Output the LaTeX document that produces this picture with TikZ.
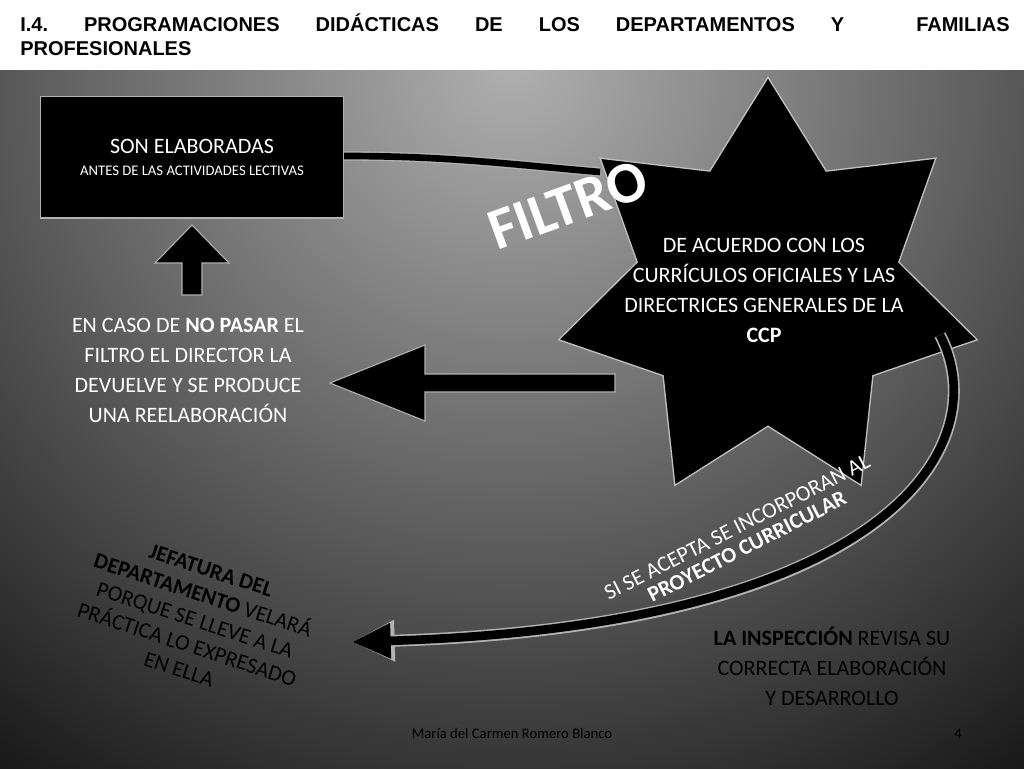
\documentclass[tikz,border=0pt]{standalone}
\usepackage{fontspec}
\setmainfont{Carlito}
\newfontfamily\titlefont{Liberation Sans}
\usetikzlibrary{shapes.geometric,arrows.meta,positioning}
\tikzset{
  whitetxt/.style={text=white,align=center,font=\fontsize{16.5}{22.5}\selectfont},
  blacktxt/.style={text=black,align=center,font=\fontsize{16.5}{22.5}\selectfont},
  blockarrow/.style={fill=black,draw=gray!60,line width=0.8pt},
}
\begin{document}
\begin{tikzpicture}[x=0.75pt,y=-0.75pt]
\useasboundingbox (0,0) rectangle (1024,768);
\fill[black!92] (0,70) rectangle (1024,768);
\begin{scope}
  \clip (0,70) rectangle (1024,768);
  \shade[inner color=gray!62,outer color=black!92] (512,60) circle (900);
\end{scope}
\fill[white] (0,0) rectangle (1024,70);
% title
\node[anchor=north west,text width=742pt,align=left,inner sep=0pt,
  font=\titlefont\bfseries\fontsize{15}{18}\selectfont] (title) at (20,14)
  {I.4.\hfill PROGRAMACIONES\hfill DIDÁCTICAS\hfill DE\hfill LOS\hfill DEPARTAMENTOS\hfill Y\hfill\hfill FAMILIAS\\PROFESIONALES};
% box
\node[draw=gray!60,fill=black,line width=1pt,minimum width=227pt,minimum height=91pt,
  whitetxt,anchor=north west] (box) at (40,96)
  {SON ELABORADAS\\[-6pt]{\fontsize{11}{13}\selectfont ANTES DE LAS ACTIVIDADES LECTIVAS}};
% star
\node[star,star points=7,star point ratio=1.6,minimum size=322pt,fill=black,
  draw=gray!50,line width=1pt] (filtro) at (768,292) {};
\node[whitetxt] (crit) at (764,290)
  {DE ACUERDO CON LOS\\CURRÍCULOS OFICIALES Y LAS\\DIRECTRICES GENERALES DE LA\\\textbf{CCP}};
% top connector
\draw[gray!60,line width=7pt] (box.east |- 0,156) to[out=0,in=175] (600,172);
\draw[black,line width=5pt] (box.east |- 0,156) to[out=0,in=175] (600,172);
\node[rotate=20,text=white,font=\bfseries\fontsize{44}{44}\selectfont] (lbl) at (568,205) {FILTRO};
% up arrow
\draw[blockarrow] (182,295) -- (182,263) -- (155,263) -- (192,225) -- (229,263) -- (202,263) -- (202,295) -- cycle;
% left arrow
\draw[blockarrow] (615,374) -- (425,374) -- (425,345) -- (330,383) -- (425,421) -- (425,392) -- (615,392) -- cycle;
\node[whitetxt] (nopasar) at (188,370)
  {EN CASO DE \textbf{NO PASAR} EL\\FILTRO EL DIRECTOR LA\\DEVUELVE Y SE PRODUCE\\UNA REELABORACIÓN};
% big curved connector
\coordinate (arrEnd) at (352,642);
\draw[gray!60,line width=9pt,-{Triangle[length=32pt,width=29pt]}] (940,335) .. controls (995,440) and (900,625) .. (arrEnd);
\draw[black,line width=6.5pt,-{Triangle[length=29pt,width=25pt]}] (940,335) .. controls (995,440) and (900,625) .. (arrEnd);
\node[whitetxt,rotate=27] (acepta) at (742,537)
  {SI SE ACEPTA SE INCORPORAN AL\\[-6pt]\textbf{PROYECTO CURRICULAR}};
\node[blacktxt,rotate=-18] (jefatura) at (195,620)
  {\textbf{JEFATURA DEL}\\[-3pt]\textbf{DEPARTAMENTO} VELARÁ\\[-3pt]PORQUE SE LLEVE A LA\\[-3pt]PRÁCTICA LO EXPRESADO\\[-3pt]EN ELLA};
\node[blacktxt] (insp) at (832,666)
  {\textbf{LA INSPECCIÓN} REVISA SU\\CORRECTA ELABORACIÓN\\Y DESARROLLO};
% footer
\node[anchor=base,font=\fontsize{11}{12}\selectfont] (autor) at (512,738) {María del Carmen Romero Blanco};
\node[anchor=base,font=\fontsize{11}{12}\selectfont] (pag) at (958,738) {4};
\end{tikzpicture}
\end{document}
